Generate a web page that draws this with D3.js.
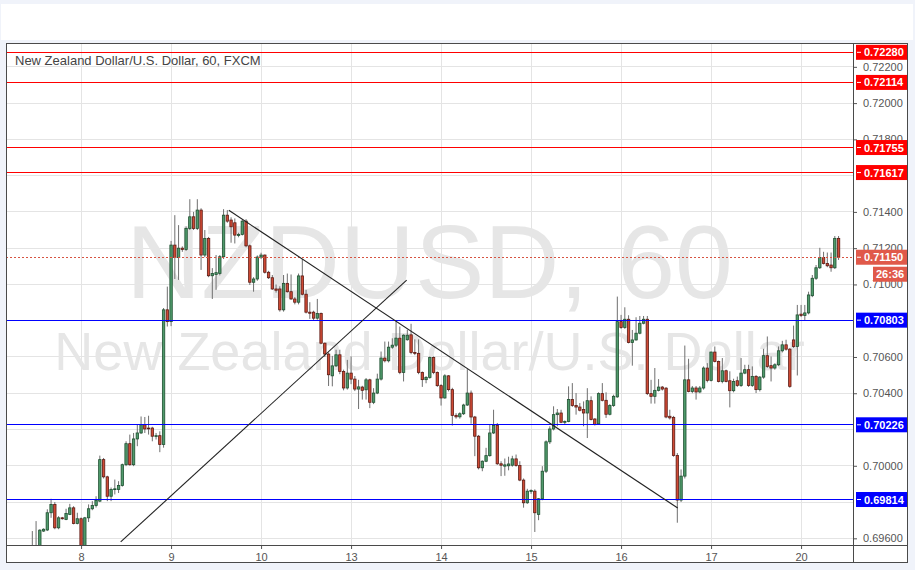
<!DOCTYPE html>
<html><head><meta charset="utf-8">
<script src="https://cdn.jsdelivr.net/npm/d3@7"></script>
<style>
html,body{margin:0;padding:0;background:#f0f3fa;}
svg{display:block;}
text{font-family:"Liberation Sans",Arial,sans-serif;}
</style></head><body>
<svg id="chart" width="915" height="570"></svg>
<script>
// ---- data (hourly candles) ----
const opens=[0.69540,0.69530,0.69540,0.69640,0.69646,0.69741,0.69787,0.69658,0.69713,0.69704,
0.69732,0.69768,0.69682,0.69708,0.69540,0.69713,0.69763,0.69781,0.69805,0.70034,
0.69939,0.69832,0.69869,0.69869,0.69891,0.70006,0.70122,0.70006,0.70148,0.70181,
0.70226,0.70208,0.70208,0.70163,0.70166,0.70117,0.70860,0.70795,0.71217,0.71148,
0.71200,0.71193,0.71309,0.71373,0.71309,0.71410,0.71162,0.71254,0.71048,0.71055,
0.71061,0.71153,0.71382,0.71355,0.71340,0.71270,0.71276,0.71349,0.71213,0.71012,
0.71030,0.71151,0.71162,0.71067,0.71037,0.70975,0.70975,0.70860,0.71006,0.70960,
0.70920,0.70902,0.71047,0.70946,0.70847,0.70847,0.70814,0.70840,0.70676,0.70616,
0.70496,0.70551,0.70612,0.70520,0.70429,0.70511,0.70478,0.70423,0.70434,0.70419,
0.70474,0.70350,0.70401,0.70478,0.70594,0.70579,0.70654,0.70665,0.70704,0.70515,
0.70695,0.70722,0.70625,0.70620,0.70515,0.70475,0.70487,0.70597,0.70515,0.70442,
0.70374,0.70496,0.70420,0.70278,0.70270,0.70287,0.70335,0.70401,0.70269,0.70163,
0.69989,0.70025,0.70056,0.70181,0.70222,0.70011,0.69998,0.70000,0.70003,0.70038,
0.70001,0.69921,0.69796,0.69858,0.69860,0.69732,0.69818,0.69970,0.70132,0.70203,
0.70282,0.70291,0.70240,0.70244,0.70365,0.70332,0.70324,0.70310,0.70291,0.70359,
0.70258,0.70231,0.70398,0.70361,0.70284,0.70332,0.70380,0.70795,0.70762,0.70808,
0.70680,0.70694,0.70731,0.70786,0.70808,0.70398,0.70383,0.70416,0.70434,0.70428,
0.70273,0.70267,0.70057,0.69811,0.69943,0.70474,0.70410,0.70429,0.70407,0.70429,
0.70539,0.70471,0.70627,0.70575,0.70465,0.70524,0.70469,0.70414,0.70469,0.70443,
0.70511,0.70530,0.70443,0.70493,0.70420,0.70489,0.70607,0.70552,0.70539,0.70557,
0.70634,0.70667,0.70643,0.70694,0.70658,0.70836,0.70829,0.70843,0.70938,0.71034,
0.71092,0.71149,0.71116,0.71107,0.71092,0.71254];
const highs=[0.69640,0.69695,0.69650,0.69655,0.69760,0.69818,0.69800,0.69722,0.69718,0.69763,
0.69790,0.69777,0.69741,0.69715,0.69718,0.69787,0.69805,0.69832,0.70056,0.70043,
0.69945,0.69880,0.69924,0.69915,0.70012,0.70135,0.70172,0.70181,0.70226,0.70272,
0.70269,0.70276,0.70215,0.70181,0.70190,0.70870,0.70988,0.71240,0.71382,0.71327,
0.71210,0.71320,0.71470,0.71400,0.71470,0.71420,0.71300,0.71262,0.71090,0.71162,
0.71162,0.71415,0.71410,0.71370,0.71364,0.71285,0.71355,0.71360,0.71220,0.71040,
0.71160,0.71175,0.71165,0.71075,0.71052,0.71000,0.70990,0.71052,0.71060,0.71055,
0.70930,0.71060,0.71140,0.70970,0.70902,0.70855,0.70920,0.70845,0.70680,0.70625,
0.70606,0.70640,0.70640,0.70530,0.70584,0.70603,0.70495,0.70474,0.70441,0.70484,
0.70480,0.70428,0.70508,0.70630,0.70685,0.70685,0.70703,0.70804,0.70768,0.70725,
0.70750,0.70783,0.70697,0.70697,0.70520,0.70495,0.70603,0.70603,0.70520,0.70450,
0.70505,0.70500,0.70430,0.70290,0.70295,0.70342,0.70533,0.70415,0.70275,0.70170,
0.70030,0.70099,0.70227,0.70309,0.70236,0.70025,0.70040,0.70050,0.70055,0.70062,
0.70025,0.69930,0.69873,0.69870,0.69870,0.69822,0.69998,0.70140,0.70218,0.70328,
0.70313,0.70309,0.70250,0.70438,0.70456,0.70401,0.70346,0.70355,0.70428,0.70383,
0.70262,0.70405,0.70456,0.70405,0.70340,0.70392,0.70933,0.70832,0.70874,0.70830,
0.70749,0.70819,0.70826,0.70826,0.70826,0.70474,0.70539,0.70478,0.70440,0.70434,
0.70309,0.70275,0.70070,0.69980,0.70663,0.70590,0.70440,0.70440,0.70440,0.70548,
0.70566,0.70630,0.70658,0.70580,0.70594,0.70530,0.70521,0.70480,0.70492,0.70594,
0.70557,0.70557,0.70548,0.70500,0.70495,0.70645,0.70713,0.70603,0.70565,0.70658,
0.70689,0.70695,0.70650,0.70773,0.70887,0.70887,0.70887,0.70960,0.71052,0.71107,
0.71202,0.71180,0.71176,0.71176,0.71267,0.71267];
const lows=[0.69500,0.69500,0.69520,0.69635,0.69640,0.69713,0.69650,0.69650,0.69703,0.69700,
0.69728,0.69677,0.69677,0.69500,0.69520,0.69690,0.69755,0.69770,0.69800,0.69930,
0.69805,0.69805,0.69842,0.69850,0.69885,0.69998,0.70000,0.69998,0.70108,0.70175,
0.70181,0.70172,0.70135,0.70145,0.70075,0.70100,0.70768,0.70770,0.71030,0.71025,
0.71180,0.71185,0.71300,0.71300,0.71300,0.71080,0.71150,0.71040,0.70920,0.70970,
0.71050,0.71140,0.71340,0.71230,0.71226,0.71260,0.71270,0.71205,0.70997,0.70960,
0.71020,0.71140,0.71060,0.71030,0.70970,0.70955,0.70850,0.70850,0.70955,0.70915,
0.70890,0.70890,0.70940,0.70840,0.70810,0.70800,0.70805,0.70670,0.70600,0.70440,
0.70438,0.70545,0.70505,0.70416,0.70420,0.70450,0.70412,0.70313,0.70365,0.70365,
0.70318,0.70340,0.70395,0.70470,0.70570,0.70570,0.70645,0.70655,0.70505,0.70465,
0.70690,0.70615,0.70610,0.70505,0.70435,0.70455,0.70480,0.70505,0.70435,0.70332,
0.70370,0.70410,0.70222,0.70260,0.70260,0.70280,0.70330,0.70232,0.70053,0.69980,
0.69970,0.70020,0.70050,0.70175,0.70005,0.69943,0.69945,0.69975,0.69995,0.69995,
0.69915,0.69769,0.69790,0.69845,0.69635,0.69700,0.69810,0.69960,0.70120,0.70195,
0.70218,0.70235,0.70230,0.70240,0.70325,0.70282,0.70300,0.70218,0.70153,0.70250,
0.70222,0.70225,0.70355,0.70264,0.70278,0.70325,0.70375,0.70755,0.70755,0.70675,
0.70552,0.70690,0.70725,0.70780,0.70390,0.70343,0.70343,0.70410,0.70415,0.70262,
0.70255,0.70050,0.69686,0.69800,0.69930,0.70405,0.70400,0.70365,0.70400,0.70420,
0.70460,0.70465,0.70570,0.70460,0.70455,0.70460,0.70322,0.70405,0.70435,0.70435,
0.70505,0.70435,0.70435,0.70401,0.70410,0.70480,0.70540,0.70465,0.70530,0.70550,
0.70625,0.70635,0.70430,0.70650,0.70498,0.70820,0.70804,0.70835,0.70930,0.71025,
0.71085,0.71110,0.71095,0.71070,0.71085,0.71135];
const closes=[0.69520,0.69550,0.69645,0.69650,0.69741,0.69787,0.69658,0.69713,0.69708,0.69737,
0.69768,0.69682,0.69708,0.69540,0.69713,0.69763,0.69781,0.69809,0.70034,0.69939,
0.69832,0.69869,0.69873,0.69891,0.70006,0.70122,0.70006,0.70148,0.70181,0.70226,
0.70203,0.70204,0.70163,0.70166,0.70117,0.70860,0.70795,0.71217,0.71148,0.71200,
0.71193,0.71309,0.71373,0.71309,0.71410,0.71162,0.71254,0.71048,0.71060,0.71065,
0.71153,0.71382,0.71349,0.71318,0.71272,0.71276,0.71349,0.71213,0.71012,0.71030,
0.71151,0.71162,0.71067,0.71037,0.70975,0.70968,0.70860,0.71006,0.70960,0.70920,
0.70902,0.71047,0.70946,0.70847,0.70841,0.70814,0.70840,0.70676,0.70616,0.70502,
0.70551,0.70612,0.70520,0.70429,0.70511,0.70478,0.70423,0.70435,0.70416,0.70474,
0.70350,0.70401,0.70478,0.70594,0.70579,0.70654,0.70665,0.70704,0.70515,0.70720,
0.70720,0.70625,0.70620,0.70515,0.70475,0.70487,0.70597,0.70515,0.70442,0.70374,
0.70496,0.70420,0.70278,0.70270,0.70287,0.70335,0.70401,0.70269,0.70163,0.69989,
0.70025,0.70056,0.70181,0.70222,0.70011,0.70003,0.70005,0.70010,0.70038,0.70001,
0.69921,0.69796,0.69860,0.69864,0.69741,0.69818,0.69970,0.70132,0.70203,0.70282,
0.70291,0.70240,0.70244,0.70365,0.70332,0.70324,0.70306,0.70291,0.70359,0.70255,
0.70227,0.70398,0.70361,0.70284,0.70332,0.70383,0.70795,0.70762,0.70808,0.70680,
0.70694,0.70731,0.70786,0.70808,0.70398,0.70383,0.70416,0.70434,0.70423,0.70269,
0.70264,0.70057,0.69811,0.69943,0.70474,0.70410,0.70429,0.70407,0.70429,0.70539,
0.70471,0.70627,0.70575,0.70465,0.70524,0.70465,0.70414,0.70465,0.70443,0.70511,
0.70530,0.70443,0.70493,0.70420,0.70489,0.70607,0.70548,0.70539,0.70557,0.70634,
0.70667,0.70643,0.70438,0.70658,0.70832,0.70829,0.70843,0.70942,0.71034,0.71092,
0.71149,0.71116,0.71103,0.71092,0.71254,0.71150];
const dayLabels=["8","9","10","13","14","15","16","17","20"];
const dayIndex=[13,37,61,85,109,133,157,181,205];
const priceTicks=[0.696,0.698,0.700,0.702,0.704,0.706,0.708,0.710,0.712,0.714,0.716,0.718,0.720,0.722];
const redLevels=[0.72280,0.72114,0.71755,0.71617];
const blueLevels=[0.70803,0.70226,0.69814];
const lastPrice=0.71150;
const countdown="26:36";
const title="New Zealand Dollar/U.S. Dollar, 60, FXCM";
const watermarkBig="NZDUSD, 60";
const watermarkSmall="New Zealand Dollar/U.S. Dollar";
const trendDown=[[52.4,0.71409],[172.1,0.69767]];
const trendUp=[[23.56,0.69580],[99.83,0.71024]];

// ---- layout ----
const L=6,R=853,T=43,B=545,FR=908,FB=563;
const svg=d3.select("#chart");
const x=d3.scaleLinear().domain([-7.02,218.85]).range([L,R]);
const y=d3.scaleLinear().domain([0.69567,0.72327]).range([544.3,43.8]);
const fmt=d3.format(".5f");
const py=v=>Math.floor(y(v))+0.5;

svg.append("rect").attr("x",0).attr("y",0).attr("width",915).attr("height",570).attr("fill","#f0f3fa");
svg.append("rect").attr("x",1).attr("y",4).attr("width",912).attr("height",36).attr("fill","#ffffff");
svg.append("rect").attr("x",L).attr("y",T).attr("width",FR-L).attr("height",FB-T).attr("fill","#ffffff");

svg.append("defs").append("clipPath").attr("id","plot").append("rect")
  .attr("x",L).attr("y",T).attr("width",R-L).attr("height",B-T);

// grid
const grid=svg.append("g").attr("shape-rendering","crispEdges");
grid.selectAll("line.gy").data(priceTicks).join("line").attr("class","gy")
  .attr("x1",L).attr("x2",R).attr("y1",d=>py(d)).attr("y2",d=>py(d))
  .attr("stroke","#e4e4e4");
grid.selectAll("line.gx").data(dayIndex).join("line").attr("class","gx")
  .attr("y1",T).attr("y2",B).attr("x1",d=>Math.round(x(d))+0.5).attr("x2",d=>Math.round(x(d))+0.5)
  .attr("stroke","#e4e4e4");

// watermark
const cx=(L+R)/2;
svg.append("text").attr("x",cx).attr("y",298).attr("text-anchor","middle")
  .attr("font-size",104).attr("fill","#e6e6e6").text(watermarkBig);
svg.append("text").attr("x",cx).attr("y",370).attr("text-anchor","middle")
  .attr("font-size",54).attr("fill","#e6e6e6").text(watermarkSmall);

// candles
const candles=opens.map((o,i)=>({i,o,h:highs[i],l:lows[i],c:closes[i]}));
const plot=svg.append("g").attr("clip-path","url(#plot)");
const cg=plot.append("g");
cg.selectAll("line.wick").data(candles).join("line").attr("class","wick")
  .attr("x1",d=>x(d.i)).attr("x2",d=>x(d.i)).attr("y1",d=>y(d.h)).attr("y2",d=>y(d.l))
  .attr("stroke","#6f6f6f").attr("stroke-width",1);
cg.selectAll("rect.body").data(candles).join("rect").attr("class","body")
  .attr("x",d=>x(d.i)-1.2).attr("width",2.4)
  .attr("y",d=>y(Math.max(d.o,d.c)))
  .attr("height",d=>Math.max(0.8,Math.abs(y(d.o)-y(d.c))))
  .attr("fill",d=>d.c>=d.o?"#4f9a6b":"#cf4a35")
  .attr("stroke",d=>d.c>=d.o?"#1f5031":"#5b1a13").attr("stroke-width",0.8);

// levels
const lv=plot.append("g").attr("shape-rendering","crispEdges");
lv.selectAll("line.rl").data(redLevels).join("line").attr("class","rl")
  .attr("x1",L).attr("x2",R).attr("y1",d=>py(d)).attr("y2",d=>py(d))
  .attr("stroke","#ff0000").attr("stroke-width",1);
lv.selectAll("line.bl").data(blueLevels).join("line").attr("class","bl")
  .attr("x1",L).attr("x2",R).attr("y1",d=>py(d)).attr("y2",d=>py(d))
  .attr("stroke","#0000ff").attr("stroke-width",1);
lv.append("line").attr("x1",L).attr("x2",R)
  .attr("y1",py(lastPrice)).attr("y2",py(lastPrice))
  .attr("stroke","#d75442").attr("stroke-dasharray","2,2");

// trend lines
const line=d3.line().x(d=>x(d[0])).y(d=>y(d[1]));
plot.append("path").attr("d",line(trendDown)).attr("fill","none").attr("stroke","#222").attr("stroke-width",1.1);
plot.append("path").attr("d",line(trendUp)).attr("fill","none").attr("stroke","#222").attr("stroke-width",1.1);

// axes (tick labels hidden under the price boxes are left out, as in the picture)
const allLevels=redLevels.concat(blueLevels,[lastPrice]);
const visibleTicks=priceTicks.filter(t=>allLevels.every(v=>Math.abs(y(t)-y(v))>=6));
const yAxis=d3.axisRight(y).tickValues(visibleTicks).tickFormat(fmt).tickSize(4).tickPadding(6);
const ya=svg.append("g").attr("transform",`translate(${R},0)`).call(yAxis);
ya.select(".domain").remove();
ya.selectAll("line").attr("stroke","#555");
ya.selectAll("text").attr("font-size",11).attr("fill","#555").attr("font-family","Liberation Sans, Arial, sans-serif");

const xAxis=d3.axisBottom(x).tickValues(dayIndex).tickFormat((d,i)=>dayLabels[i]).tickSize(4).tickPadding(4);
const xa=svg.append("g").attr("transform",`translate(0,${B})`).call(xAxis);
xa.select(".domain").remove();
xa.selectAll("line").attr("stroke","#555");
xa.selectAll("text").attr("font-size",11).attr("fill","#555").attr("font-family","Liberation Sans, Arial, sans-serif");

// frame & axis lines
const fr=svg.append("g").attr("shape-rendering","crispEdges");
fr.append("rect").attr("x",L+0.5).attr("y",T+0.5).attr("width",FR-L-1).attr("height",FB-T-1)
  .attr("fill","none").attr("stroke","#4a4a4a");
fr.append("line").attr("x1",R+0.5).attr("x2",R+0.5).attr("y1",T).attr("y2",FB).attr("stroke","#4a4a4a");
fr.append("line").attr("x1",L).attr("x2",FR).attr("y1",B+0.5).attr("y2",B+0.5).attr("stroke","#4a4a4a");

// price boxes
function box(v,color,label){
  const cy=y(v);
  const g=svg.append("g");
  g.append("rect").attr("x",R+3).attr("y",cy-7.5).attr("width",FR-R-4).attr("height",15).attr("fill",color);
  g.append("line").attr("x1",R+4).attr("x2",R+8).attr("y1",cy).attr("y2",cy).attr("stroke","#fff");
  g.append("text").attr("x",R+11).attr("y",cy+4).attr("font-size",11).attr("font-weight","bold")
    .attr("fill","#fff").text(label);
}
redLevels.forEach(v=>box(v,"#ff0000",fmt(v)));
blueLevels.forEach(v=>box(v,"#0000ff",fmt(v)));
box(lastPrice,"#e0594a",fmt(lastPrice));
// countdown
const yc=y(lastPrice)+17;
svg.append("rect").attr("x",R+20).attr("y",yc-7.5).attr("width",FR-R-21).attr("height",15).attr("fill","#e0594a");
svg.append("text").attr("x",R+23).attr("y",yc+4).attr("font-size",11).attr("font-weight","bold").attr("fill","#fff").text(countdown);

// title
svg.append("text").attr("x",15).attr("y",65).attr("font-size",13).attr("fill","#444").text(title);
</script>
</body></html>
